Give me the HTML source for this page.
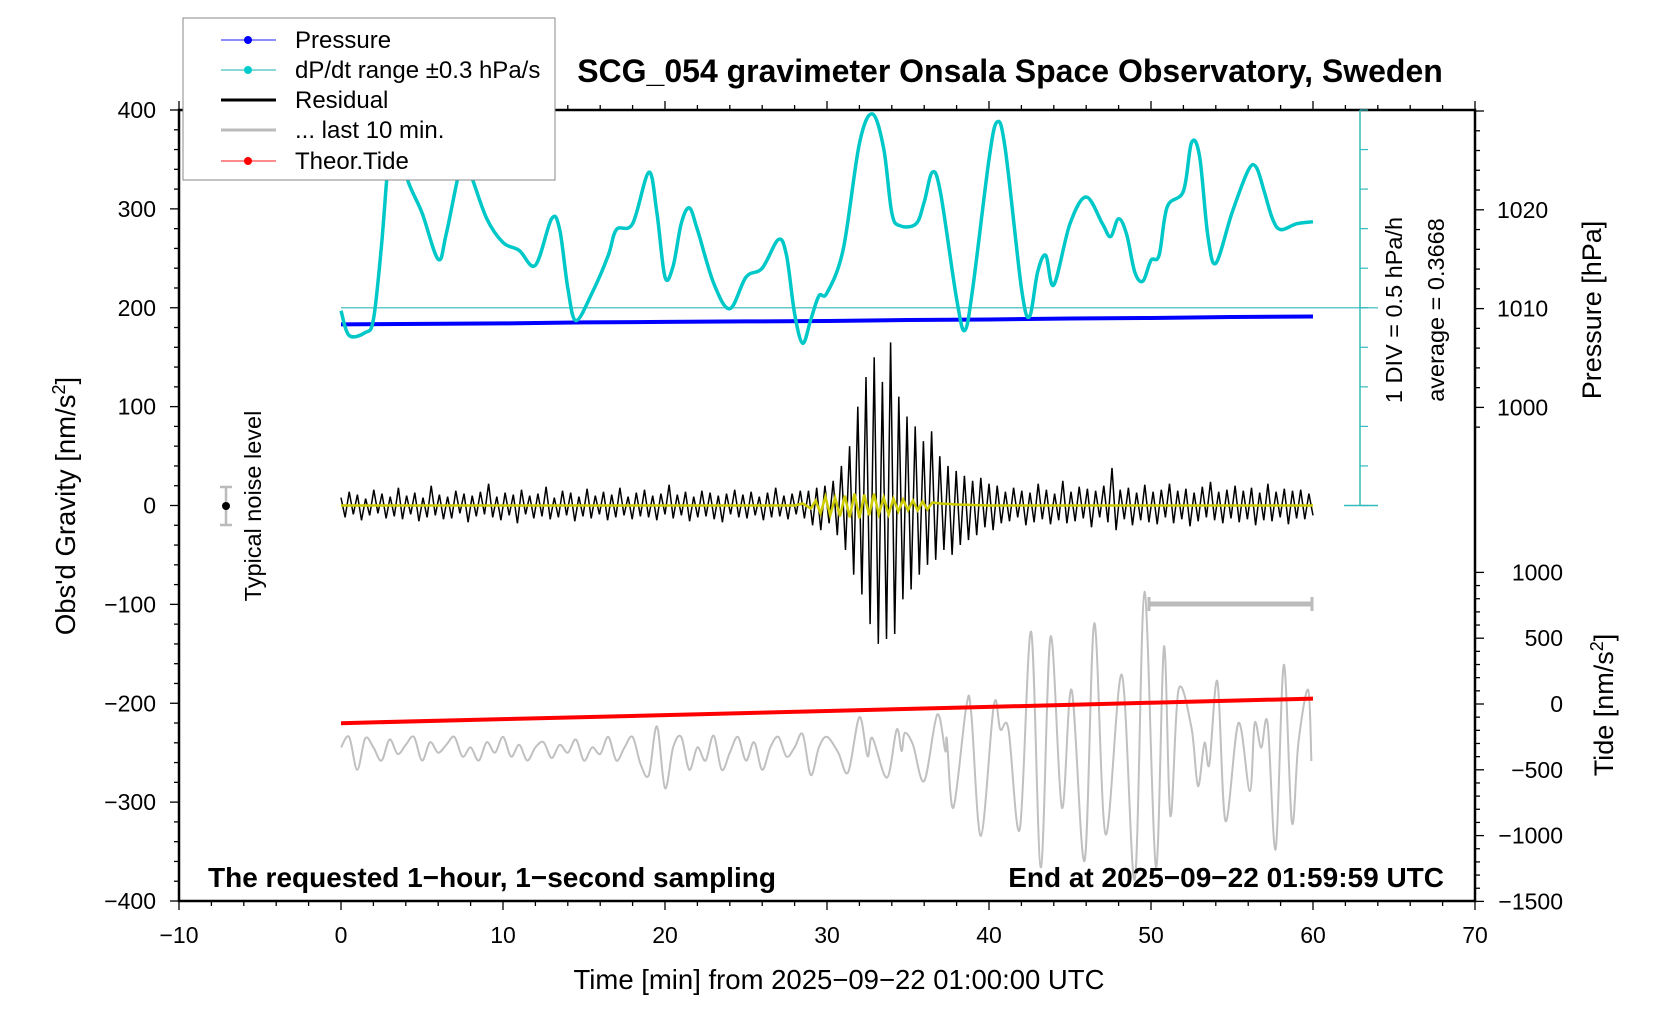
<!DOCTYPE html>
<html><head><meta charset="utf-8">
<style>
html,body{margin:0;padding:0;background:#fff;}
svg{display:block;font-family:"Liberation Sans",sans-serif;}
</style></head>
<body>
<svg id="chart" width="1676" height="1020" viewBox="0 0 1676 1020" xmlns="http://www.w3.org/2000/svg">
<rect width="1676" height="1020" fill="#fff"/>
<g id="marks"></g>
<g id="axes"></g>
<text x="1010" y="82" text-anchor="middle" font-size="32" font-weight="bold">SCG_054 gravimeter Onsala Space Observatory, Sweden</text>
<text x="208" y="887" font-size="28" font-weight="bold">The requested 1−hour, 1−second sampling</text>
<text x="1444" y="887" text-anchor="end" font-size="28" font-weight="bold">End at 2025−09−22 01:59:59 UTC</text>
<text x="839" y="989" text-anchor="middle" font-size="27.5">Time [min] from 2025−09−22 01:00:00 UTC</text>
<text transform="translate(75,506) rotate(-90)" text-anchor="middle" font-size="27.5">Obs'd Gravity [nm/s<tspan dy="-10" font-size="18">2</tspan><tspan dy="10">]</tspan></text>
<text transform="translate(1601,310) rotate(-90)" text-anchor="middle" font-size="27">Pressure [hPa]</text>
<text transform="translate(1613,705) rotate(-90)" text-anchor="middle" font-size="27">Tide [nm/s<tspan dy="-10" font-size="18">2</tspan><tspan dy="10">]</tspan></text>
<text transform="translate(1402,310) rotate(-90)" text-anchor="middle" font-size="23.5">1 DIV = 0.5 hPa/h</text>
<text transform="translate(1444,310) rotate(-90)" text-anchor="middle" font-size="23.5">average = 0.3668</text>
<text transform="translate(261,506) rotate(-90)" text-anchor="middle" font-size="23.5">Typical noise level</text>
<g stroke="#bbb" stroke-width="2.5">
<line x1="226" y1="487" x2="226" y2="525"/><line x1="220" y1="487" x2="232" y2="487"/><line x1="220" y1="525" x2="232" y2="525"/>
<circle cx="226" cy="506" r="4" fill="#000" stroke="none"/>
</g>
<g stroke="#bbb">
<line x1="1149" y1="604" x2="1312" y2="604" stroke-width="5"/>
<line x1="1149" y1="597" x2="1149" y2="611" stroke-width="3"/>
<line x1="1312" y1="597" x2="1312" y2="611" stroke-width="3"/>
</g>
<g>
<rect x="183" y="18" width="372" height="162" fill="#fff" stroke="#888" stroke-width="1"/>
<g><line x1="221" y1="40" x2="276" y2="40" stroke="#66f" stroke-width="1.5"/><circle cx="248" cy="40" r="4" fill="#00f"/><text x="295" y="48" font-size="24">Pressure</text></g>
<g><line x1="221" y1="70" x2="276" y2="70" stroke="#6cc" stroke-width="1.5"/><circle cx="248" cy="70" r="4" fill="#0cc"/><text x="295" y="78" font-size="24">dP/dt range ±0.3 hPa/s</text></g>
<g><line x1="221" y1="100" x2="276" y2="100" stroke="#000" stroke-width="3"/><text x="295" y="108" font-size="24">Residual</text></g>
<g><line x1="221" y1="130" x2="276" y2="130" stroke="#bbb" stroke-width="3"/><text x="295" y="138" font-size="24">... last 10 min.</text></g>
<g><line x1="221" y1="161" x2="276" y2="161" stroke="#f66" stroke-width="1.5"/><circle cx="248" cy="161" r="4" fill="#f00"/><text x="295" y="169" font-size="24">Theor.Tide</text></g>
</g>
</svg>
<script>
// ---- data ----
const dpdtTimes = [0,0.5,1.5,2,2.5,3,3.5,4,5,6,6.5,7.5,8,9,10,11,12,13,13.5,14,14.5,15.5,16.5,17,18,19,19.5,20,20.5,21,21.5,22,23,24,25,26,27,27.5,28,28.5,29,29.5,30,31,32,32.8,33.5,34,34.5,35.5,36,36.5,37,38,38.5,39,40,40.5,41,42,42.5,43,43.5,44,45,46,47,47.5,48,48.5,49,49.5,50,50.5,51,52,52.5,53,53.5,54,55,56,56.5,57,57.5,58,59,60];
const dpdtValues = [197,172,175,188,263,361,390,335,296,249,275,350,335,290,266,258,243,290,279,220,187,215,253,279,285,337,296,231,242,285,301,279,225,199,231,240,269,253,194,164,188,212,215,259,366,396,361,296,283,285,307,337,317,209,177,220,350,388,361,220,191,236,253,223,285,312,285,272,290,274,236,227,248,253,302,318,367,353,274,245,296,339,342,317,290,279,285,287];
const dpdtAverage = 200;
const pressureTimes = [0,5,10,15,20,25,30,35,40,45,50,55,60];
const pressureValues = [1008.4,1008.45,1008.5,1008.6,1008.65,1008.7,1008.75,1008.85,1008.9,1009.0,1009.05,1009.15,1009.2];
const tideTimes = [0,10,20,30,40,50,60];
const tideValues = [-146,-115,-84,-53,-22,10,41];
const residualValues = [8,-12,14,-9,11,-15,7,-10,16,-8,12,-13,9,-11,18,-14,10,-9,13,-16,8,-12,20,-10,11,-14,9,-13,15,-8,12,-17,10,-11,14,-9,22,-12,9,-15,13,-10,11,-18,16,-9,10,-13,12,-11,19,-14,8,-12,15,-10,13,-16,9,-11,17,-13,10,-9,14,-15,11,-12,18,-10,9,-14,13,-11,16,-12,10,-15,12,-9,21,-13,11,-10,14,-16,9,-12,15,-11,13,-14,10,-17,12,-9,16,-12,11,-13,14,-10,9,-15,13,-12,18,-11,10,-14,12,-9,15,-13,
15,-20,18,-25,20,-18,25,-30,40,-45,60,-70,100,-90,130,-120,150,-140,125,-135,165,-130,110,-95,90,-85,80,-70,65,-60,75,-55,50,-45,40,-50,35,-40,30,-35,25,-30,28,-22,22,-25,20,-18,
14,-16,18,-12,15,-20,13,-17,22,-14,16,-19,12,-15,25,-18,14,-16,19,-13,17,-22,15,-12,20,-17,38,-25,16,-14,18,-20,13,-15,21,-17,14,-19,16,-12,22,-18,15,-14,17,-21,13,-16,19,-12,24,-15,14,-18,16,-13,20,-17,15,-14,18,-20,13,-15,22,-16,14,-12,17,-19,15,-13,16,-14,12,-10];
const filteredTimes = [0,28,28.5,29,29.3,29.6,29.9,30.2,30.5,30.8,31.1,31.4,31.7,32,32.3,32.6,32.9,33.2,33.5,33.8,34.1,34.4,34.7,35,35.3,35.6,35.9,36.2,36.5,37,38,40,60];
const filteredValues = [0,0,2,-3,5,-8,9,-10,8,-11,10,-12,12,-13,11,-10,12,-9,8,-9,7,-6,6,-5,5,-5,4,-4,3,2,1,0,0];
const grayTimes = [0,0.5,1,1.5,2,2.5,3,3.5,4,4.5,5,5.5,6,6.5,7,7.5,8,8.5,9,9.5,10,10.5,11,11.5,12,12.5,13,13.5,14,14.5,15,15.5,16,16.5,17,17.5,18,18.5,19,19.5,20,20.5,21,21.5,22,22.5,23,23.5,24,24.5,25,25.5,26,26.5,27,27.5,28,28.5,29,29.5,30,30.7,31.3,32.0,32.5,32.8,33.7,34.3,34.6,34.8,35.3,36.0,36.8,37.3,37.4,37.8,38.6,38.9,39.5,40.3,40.7,41.2,41.9,42.6,43.2,43.8,44.5,45.1,45.9,46.5,47.2,48.2,49.0,49.6,50.3,50.8,51.2,51.7,52.5,52.9,53.3,53.6,54.1,54.6,55.4,56.1,56.4,56.8,57.2,57.7,58.2,58.7,59.1,59.7,59.9];
const grayValues = [-330,-250,-500,-260,-330,-430,-270,-380,-310,-250,-430,-290,-370,-310,-250,-400,-330,-430,-290,-370,-250,-400,-310,-430,-330,-290,-410,-310,-370,-270,-430,-330,-380,-250,-430,-330,-250,-460,-540,-170,-640,-330,-250,-500,-330,-430,-240,-500,-370,-250,-430,-290,-500,-330,-250,-400,-330,-230,-540,-330,-250,-370,-520,-100,-396,-258,-560,-194,-358,-220,-308,-586,-81,-358,-270,-788,-18,-68,-1002,-5,-194,-190,-952,550,-1242,512,-788,108,-1192,613,-990,222,-1331,853,-1242,437,-851,108,-182,-624,-295,-460,172,-889,-144,-662,-144,-333,-144,-1103,298,-901,-295,108,-434];
const xTicks = [-10,0,10,20,30,40,50,60,70];
const yTicks = [400,300,200,100,0,-100,-200,-300,-400];
const pressureTicks = [1000,1010,1020];
const tideTicks = [1000,500,0,-500,-1000,-1500];

// ---- scales ----
const X0=179, X1=1475, YT=110, YB=901;
const X = t => X0 + (t+10)*(X1-X0)/80;
const Y = g => 505.5 - g*(YB-YT)/800;
const YP = p => 308.6 - (p-1010)*9.88;
const YTd = v => 704 - v*0.1316;
const NS="http://www.w3.org/2000/svg";
const marks=document.getElementById('marks'), axes=document.getElementById('axes');
function mk(tag, attrs, parent){const e=document.createElementNS(NS,tag);for(const k in attrs)e.setAttribute(k,attrs[k]);parent.appendChild(e);return e;}
function smooth(pts){let d='M'+pts[0][0].toFixed(1)+','+pts[0][1].toFixed(1);for(let i=0;i<pts.length-1;i++){const p0=pts[Math.max(0,i-1)],p1=pts[i],p2=pts[i+1],p3=pts[Math.min(pts.length-1,i+2)];const c1=[p1[0]+(p2[0]-p0[0])/6,p1[1]+(p2[1]-p0[1])/6],c2=[p2[0]-(p3[0]-p1[0])/6,p2[1]-(p3[1]-p1[1])/6];d+=' C'+c1[0].toFixed(1)+','+c1[1].toFixed(1)+' '+c2[0].toFixed(1)+','+c2[1].toFixed(1)+' '+p2[0].toFixed(1)+','+p2[1].toFixed(1);}return d;}
function poly(pts){return 'M'+pts.map(p=>p[0].toFixed(1)+','+p[1].toFixed(1)).join(' L');}

let e=mk('path',{d:smooth(grayTimes.map((t,i)=>[X(t),YTd(grayValues[i])])),fill:'none',stroke:'#c0c0c0','stroke-width':2},marks);


e=mk('path',{d:poly(tideTimes.map((t,i)=>[X(t),YTd(tideValues[i])])),fill:'none',stroke:'#f00','stroke-width':4},marks);


e=mk('line',{x1:X(0),x2:1378,y1:Y(dpdtAverage),y2:Y(dpdtAverage),stroke:'#66c8c8','stroke-width':1.5},marks);


const n=residualValues.length;
e=mk('path',{d:poly(residualValues.map((v,i)=>[X(i*60/(n-1)),Y(v)])),fill:'none',stroke:'#000','stroke-width':1.5},marks);


e=mk('path',{d:poly(filteredTimes.map((t,i)=>[X(t),Y(filteredValues[i])])),fill:'none',stroke:'#cccc00','stroke-width':2.5},marks);


e=mk('path',{d:poly(pressureTimes.map((t,i)=>[X(t),YP(pressureValues[i])])),fill:'none',stroke:'#00f','stroke-width':4},marks);


e=mk('path',{d:smooth(dpdtTimes.map((t,i)=>[X(t),Y(dpdtValues[i])])),fill:'none',stroke:'#00c8c8','stroke-width':3.5},marks);



// ---- axes ----
e=mk('rect',{x:X0,y:YT,width:X1-X0,height:YB-YT,fill:'none',stroke:'#000','stroke-width':2.5},axes);


for(let v=-10;v<=70;v+=2){const maj=v%10===0;mk('line',{x1:X(v),x2:X(v),y1:YB,y2:YB+(maj?9:5),stroke:'#000','stroke-width':1.3},axes);mk('line',{x1:X(v),x2:X(v),y1:YT,y2:YT-(maj?9:5),stroke:'#000','stroke-width':1.3},axes);}
xTicks.forEach(v=>{const t=mk('text',{x:X(v),y:943,'text-anchor':'middle','font-size':23},axes);t.textContent=String(v).replace('-','−');

});
for(let v=-400;v<=400;v+=20){const maj=v%100===0;mk('line',{x1:X0,x2:X0-(maj?9:5),y1:Y(v),y2:Y(v),stroke:'#000','stroke-width':1.3},axes);}
yTicks.forEach(v=>{const t=mk('text',{x:156,y:Y(v)+8,'text-anchor':'end','font-size':23},axes);t.textContent=String(v).replace('-','−');

});
for(let p=998;p<=1030;p+=2){const y=YP(p);if(y<YT||y>YB)continue;const maj=p%10===0;mk('line',{x1:X1,x2:X1+(maj?9:5),y1:y,y2:y,stroke:'#000','stroke-width':1.3},axes);}
pressureTicks.forEach(p=>{const t=mk('text',{x:1497,y:YP(p)+8,'font-size':23},axes);t.textContent=p;

});
for(let v=-1500;v<=1000;v+=100){const maj=v%500===0;mk('line',{x1:X1,x2:X1+(maj?9:5),y1:YTd(v),y2:YTd(v),stroke:'#000','stroke-width':1.3},axes);}
tideTicks.forEach(v=>{const t=mk('text',{x:1563,y:YTd(v)+8,'text-anchor':'end','font-size':23},axes);t.textContent=String(v).replace('-','−');

});
e=mk('line',{x1:1360,x2:1360,y1:YT,y2:Y(0),stroke:'#33bbbb','stroke-width':1.5},axes);


for(let k=0;k<=10;k++){const y=Y(0)-k*(Y(0)-YT)/10;mk('line',{x1:1360,x2:1368,y1:y,y2:y,stroke:'#33bbbb','stroke-width':1.2},axes);}
mk('line',{x1:1344,x2:1378,y1:Y(0),y2:Y(0),stroke:'#33bbbb','stroke-width':1.5},axes);
</script>
</body></html>
